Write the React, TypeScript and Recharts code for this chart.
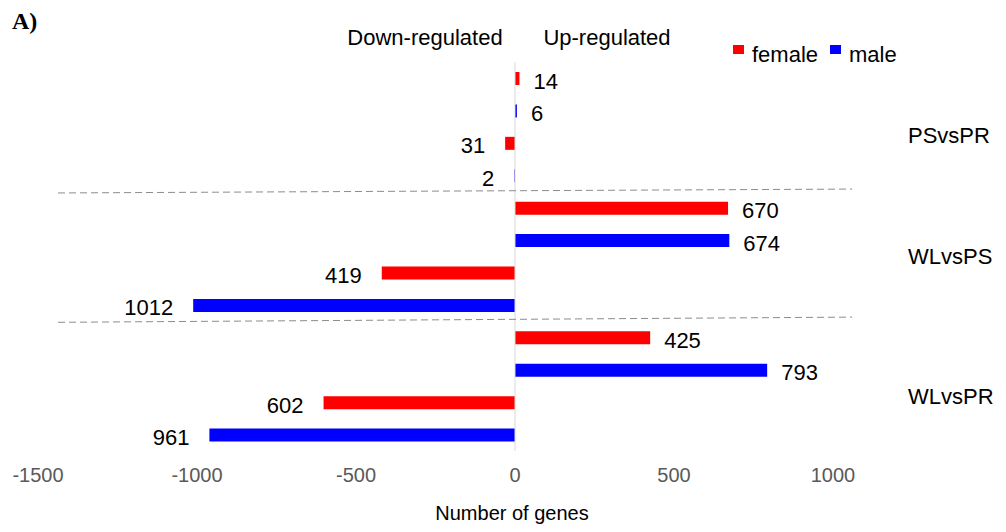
import React from 'react';
import {
  BarChart,
  Bar,
  XAxis,
  YAxis,
  ReferenceLine,
  LabelList,
  Legend,
} from 'recharts';

// ---------- data ----------
const comparisons = ['PSvsPR', 'WLvsPS', 'WLvsPR'];
const rowComparison = [
  'PSvsPR', 'PSvsPR', 'PSvsPR', 'PSvsPR',
  'WLvsPS', 'WLvsPS', 'WLvsPS', 'WLvsPS',
  'WLvsPR', 'WLvsPR', 'WLvsPR', 'WLvsPR',
];
const rowSex = [
  'female', 'male', 'female', 'male',
  'female', 'male', 'female', 'male',
  'female', 'male', 'female', 'male',
];
const rowValues = [14, 6, -31, -2, 670, 674, -419, -1012, 425, 793, -602, -961];
const rowPosition = [0, 1, 2, 3, 4, 5, 6, 7, 8, 9, 10, 11];
const groupLabelPosition = [1.75, 5.5, 9.8];
const xTicks = [-1500, -1000, -500, 0, 500, 1000];
const separatorStart = [
  { x: -1437, y: 3.54 },
  { x: -1437, y: 7.53 },
];
const separatorEnd = [
  { x: 1060, y: 3.42 },
  { x: 1060, y: 7.37 },
];

const rows = rowValues.map((v, i) => ({
  pos: rowPosition[i],
  comparison: rowComparison[i],
  female: rowSex[i] === 'female' ? v : null,
  male: rowSex[i] === 'male' ? v : null,
}));

// ---------- styles ----------
const FONT = '"Liberation Sans", Arial, Helvetica, sans-serif';
const RED = '#ff0000';
const BLUE = '#0000ff';

const renderValueLabel = (props: any) => {
  const { value } = props;
  if (value === null || value === undefined) return null;
  const vb =
    props.viewBox && typeof props.viewBox.x === 'number' ? props.viewBox : props;
  const x = Number(vb.x);
  const w = Number(vb.width);
  const y = Number(vb.y);
  const h = Number(vb.height);
  const a = x;
  const b = x + w;
  const cy = y + h / 2;
  const v = Number(value);
  if (v >= 0) {
    return (
      <text
        x={Math.max(a, b) + 14}
        y={cy + 10}
        textAnchor="start"
        fontFamily={FONT}
        fontSize={22}
        fill="#000"
      >
        {Math.abs(v)}
      </text>
    );
  }
  return (
    <text
      x={Math.min(a, b) - 20}
      y={cy + 10}
      textAnchor="end"
      fontFamily={FONT}
      fontSize={22}
      fill="#000"
    >
      {Math.abs(v)}
    </text>
  );
};

const renderLegend = (props: any) => {
  const payload = props.payload || [];
  return (
    <div
      style={{
        display: 'flex',
        fontFamily: FONT,
        fontSize: 22,
        lineHeight: '22px',
        color: '#000',
      }}
    >
      {payload.map((p: any, i: number) => (
        <div
          key={i}
          style={{ display: 'flex', alignItems: 'flex-start', marginRight: 12 }}
        >
          <span
            style={{
              display: 'inline-block',
              width: 11,
              height: 9,
              background: p.color,
              marginTop: 1,
              marginRight: 8,
            }}
          />
          <span>{p.value}</span>
        </div>
      ))}
    </div>
  );
};

export default function App() {
  return (
    <div
      style={{
        position: 'absolute',
        left: 0,
        top: 0,
        width: 1006,
        height: 532,
        background: '#fff',
      }}
    >
      <BarChart
        width={1006}
        height={532}
        data={rows}
        layout="vertical"
        margin={{ top: 62, right: 0, bottom: 51, left: 38 }}
      >
        <XAxis
          type="number"
          domain={[-1500, 1000]}
          ticks={xTicks}
          interval={0}
          axisLine={false}
          tickLine={false}
          height={30}
          tickMargin={11}
          tick={{ fill: '#595959', fontSize: 20, fontFamily: FONT }}
        />
        <YAxis
          yAxisId="f"
          type="number"
          dataKey="pos"
          domain={[-0.5, 11.5]}
          hide
        />
        <YAxis
          yAxisId="m"
          orientation="right"
          type="number"
          dataKey="pos"
          domain={[-0.5, 11.5]}
          ticks={groupLabelPosition}
          interval={0}
          tickFormatter={(v: number) => comparisons[groupLabelPosition.indexOf(v)] ?? ''}
          axisLine={false}
          tickLine={false}
          width={173}
          tickMargin={69}
          tick={{ fill: '#000', fontSize: 22, fontFamily: FONT }}
        />
        <ReferenceLine yAxisId="f" x={0} stroke="#d9d9d9" strokeWidth={1} />
        {separatorStart.map((s, i) => (
          <ReferenceLine
            key={i}
            yAxisId="f"
            segment={[s, separatorEnd[i]]}
            stroke="#8c8c8c"
            strokeWidth={1}
            strokeDasharray="7 4"
            ifOverflow="visible"
          />
        ))}
        <Legend
          layout="horizontal"
          verticalAlign="middle"
          align="center"
          wrapperStyle={{ top: 44, left: 733, width: 270, height: 26, margin: 0 }}
          content={renderLegend}
        />
        <Bar
          yAxisId="f"
          dataKey="female"
          name="female"
          fill={RED}
          barSize={13}
          isAnimationActive={false}
        >
          <LabelList dataKey="female" content={renderValueLabel} />
        </Bar>
        <Bar
          yAxisId="m"
          dataKey="male"
          name="male"
          fill={BLUE}
          barSize={13}
          isAnimationActive={false}
        >
          <LabelList dataKey="male" content={renderValueLabel} />
        </Bar>
      </BarChart>
      <svg
        width={1006}
        height={532}
        style={{ position: 'absolute', left: 0, top: 0, pointerEvents: 'none' }}
      >
        <text
          x={12}
          y={29}
          fontFamily='"Liberation Serif", "Times New Roman", serif'
          fontWeight="bold"
          fontSize={24}
          fill="#000"
        >
          A)
        </text>
        <text x={425} y={45} textAnchor="middle" fontFamily={FONT} fontSize={22} fill="#000">
          Down-regulated
        </text>
        <text x={607} y={45} textAnchor="middle" fontFamily={FONT} fontSize={22} fill="#000">
          Up-regulated
        </text>
        <text x={512} y={520} textAnchor="middle" fontFamily={FONT} fontSize={20} fill="#000">
          Number of genes
        </text>
      </svg>
    </div>
  );
}
